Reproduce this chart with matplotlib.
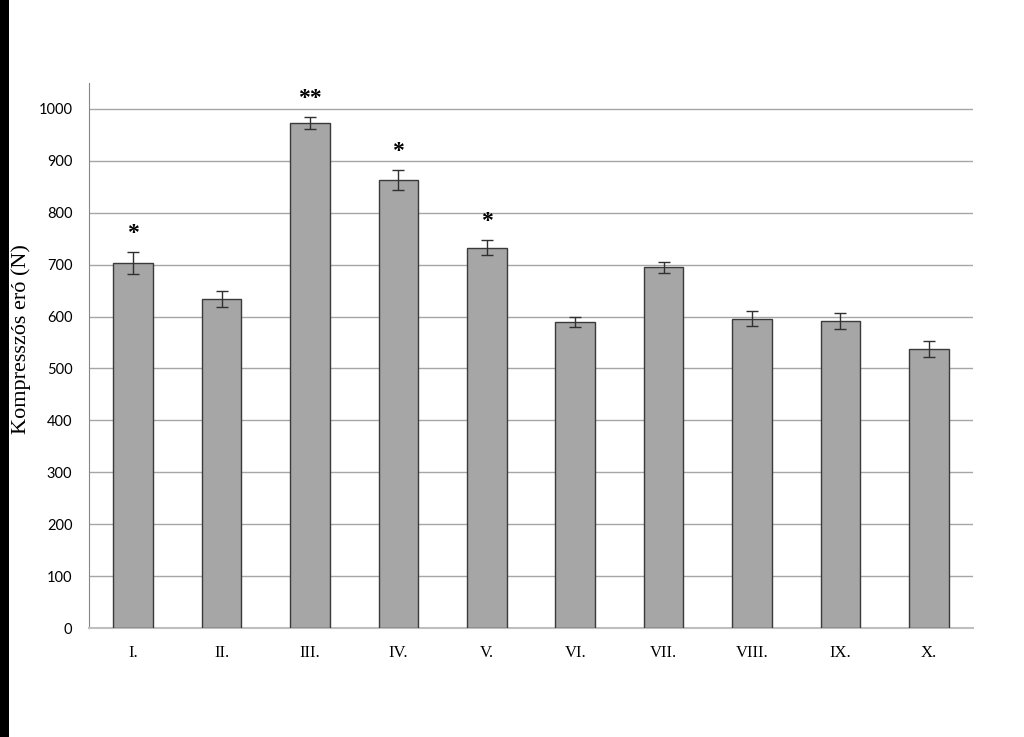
import numpy as np
import matplotlib.pyplot as plt
from matplotlib.patches import Rectangle

# Data
groups = ["I.", "II.", "III.", "IV.", "V.", "VI.", "VII.", "VIII.", "IX.", "X."]
force = [703, 634, 973, 863, 733, 589, 695, 596, 592, 537]
force_err = [21, 15, 11, 19, 15, 10, 11, 15, 15, 15]
stars = ["*", "", "**", "*", "*", "", "", "", "", ""]

fig = plt.figure(figsize=(10.24, 7.37), dpi=100)
# black strip on the left edge of the scan
fig.patches.append(Rectangle((0, 0), 9 / 1024, 1, transform=fig.transFigure,
                             facecolor="black", edgecolor="none"))

ax = fig.add_axes([89 / 1024, 1 - 628 / 737, 884 / 1024, 545 / 737])
x = np.arange(len(groups))
ax.bar(x, force, width=0.45, color="#a6a6a6", edgecolor="#3a3a3a", linewidth=1.0,
       yerr=force_err, error_kw=dict(ecolor="#303030", elinewidth=1.0, capsize=4,
                                     capthick=1.0), zorder=3)

# significance marks
for xi, v, e, s in zip(x, force, force_err, stars):
    if s:
        ax.text(xi, v + e + 36, s, ha="center", va="center", fontsize=17,
                family="Liberation Serif", fontweight="bold")

ax.set_xlim(-0.5, len(groups) - 0.5)
ax.set_ylim(0, 1050)
ax.set_yticks(np.arange(0, 1001, 100))
ax.set_xticks(x)
ax.set_xticklabels(groups, family="Liberation Serif", fontsize=12)
for lab in ax.get_yticklabels():
    lab.set_family("Lato")
    lab.set_fontsize(10.5)
ax.tick_params(axis="both", length=0)
ax.tick_params(axis="y", pad=12)
ax.tick_params(axis="x", pad=12)
ax.grid(axis="y", color="#a6a6a6", linewidth=1.0, zorder=0)
ax.set_axisbelow(True)

for side in ["top", "right"]:
    ax.spines[side].set_visible(False)
ax.spines["left"].set_color("#868686")
ax.spines["bottom"].set_color("#bfbfbf")
ax.spines["bottom"].set_linewidth(1.5)

ax.set_ylabel("Kompresszós eró (N)", family="Liberation Serif", fontsize=16)
ax.yaxis.set_label_coords(-0.066, 0.53)

fig.savefig("out.png", dpi=100)
